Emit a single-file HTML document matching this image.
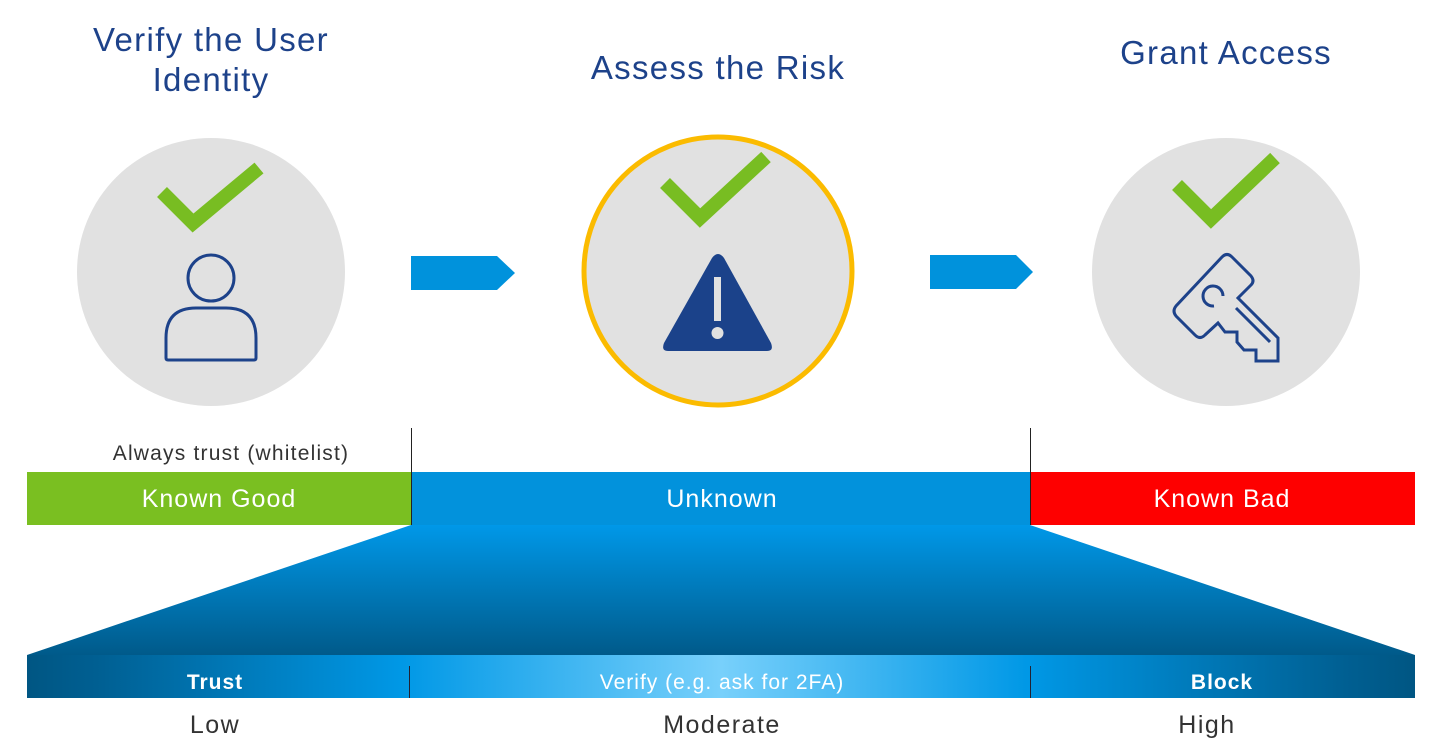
<!DOCTYPE html>
<html><head><meta charset="utf-8"><style>
body{margin:0;width:1440px;height:748px;background:#fff;overflow:hidden;font-family:"Liberation Sans",sans-serif}
</style></head><body>
<svg width="1440" height="748" xmlns="http://www.w3.org/2000/svg" style="position:absolute;left:0;top:0">
<defs>
<linearGradient id="trap" x1="0" y1="0" x2="0" y2="1">
<stop offset="0" stop-color="#0098e8"/><stop offset="1" stop-color="#005a8a"/></linearGradient>
<linearGradient id="bar" x1="27" y1="0" x2="1415" y2="0" gradientUnits="userSpaceOnUse">
<stop offset="0" stop-color="#005683"/><stop offset="0.05" stop-color="#005f92"/>
<stop offset="0.27" stop-color="#0098e6"/><stop offset="0.5" stop-color="#78d0fb"/>
<stop offset="0.72" stop-color="#0098e6"/><stop offset="0.95" stop-color="#005f92"/><stop offset="1" stop-color="#005683"/></linearGradient>
</defs>
<g font-family="Liberation Sans, sans-serif" fill="#1d428a" font-size="33" text-anchor="middle" letter-spacing="1.3">
<text x="211" y="51">Verify the User</text>
<text x="211" y="91">Identity</text>
<text x="718" y="79">Assess the Risk</text>
<text x="1226" y="64">Grant Access</text>
</g>
<circle cx="211" cy="272" r="134" fill="#e1e1e1"/>
<circle cx="718" cy="271" r="134" fill="#e1e1e1" stroke="#fbbb00" stroke-width="5"/>
<circle cx="1226" cy="272" r="134" fill="#e1e1e1"/>
<g fill="none" stroke="#78bd22" stroke-width="14">
<polyline points="162,192 193,223 259,168"/>
<polyline points="665,183 700,218 766,157"/>
<polyline points="1177,185 1211,219 1275,158"/>
</g>
<g fill="none" stroke="#1d428a" stroke-width="3">
<circle cx="211" cy="278" r="23"/>
<path d="M166,358 V338 Q166,308 196,308 H226 Q256,308 256,338 V358 Q256,360 254,360 H168 Q166,360 166,358 Z"/>
<path d="M1222,257 Q1227,252 1232,257 L1251,276 Q1255,281 1251,285 L1238,298 L1278,338 V361 H1256 V350 H1244 L1237,342 V332 H1225 L1218,323 L1205,335 Q1200,340 1195,335 L1176,316 Q1172,311 1176,306 Z"/>
<path d="M1223,296 A10,10 0 1 0 1214,306"/>
<line x1="1236" y1="308" x2="1270" y2="342"/>
</g>
<path d="M712,258 Q718,250 724,258 L771,343 Q774,351 767,351 H668 Q661,351 664,343 Z" fill="#1b428a"/>
<rect x="714" y="277" width="7" height="44" fill="#e1e1e1"/>
<circle cx="717.5" cy="333" r="6" fill="#e1e1e1"/>
<polygon points="411,256 497,256 515,273 497,290 411,290" fill="#0092dc"/>
<polygon points="930,255 1016,255 1033,272 1016,289 930,289" fill="#0092dc"/>
<text x="231" y="460" font-size="21" fill="#333" text-anchor="middle" letter-spacing="1.2">Always trust (whitelist)</text>
<rect x="27" y="472" width="384" height="53" fill="#7abf21"/>
<rect x="411" y="472" width="619" height="53" fill="#0292dc"/>
<rect x="1030" y="472" width="385" height="53" fill="#fe0000"/>
<line x1="411.5" y1="428" x2="411.5" y2="525" stroke="#222" stroke-width="1"/>
<line x1="1030.5" y1="428" x2="1030.5" y2="525" stroke="#222" stroke-width="1"/>
<g fill="#fff" font-size="25" text-anchor="middle" letter-spacing="1">
<text x="219" y="507">Known Good</text>
<text x="722" y="507">Unknown</text>
<text x="1222" y="507">Known Bad</text>
</g>
<polygon points="411,525 1030,525 1415,655 27,655" fill="url(#trap)"/>
<rect x="27" y="655" width="1388" height="43" fill="url(#bar)"/>
<line x1="409.5" y1="666" x2="409.5" y2="698" stroke="#223" stroke-width="1"/>
<line x1="1030.5" y1="666" x2="1030.5" y2="698" stroke="#223" stroke-width="1"/>
<g fill="#fff" font-size="21" text-anchor="middle" letter-spacing="1" font-weight="bold">
<text x="215" y="689">Trust</text>
<text x="722" y="689" font-weight="normal">Verify (e.g. ask for 2FA)</text>
<text x="1222" y="689">Block</text>
</g>
<g fill="#333" font-size="25" text-anchor="middle" letter-spacing="1.5">
<text x="215" y="733">Low</text>
<text x="722" y="733">Moderate</text>
<text x="1207" y="733">High</text>
</g>
</svg>
</body></html>
